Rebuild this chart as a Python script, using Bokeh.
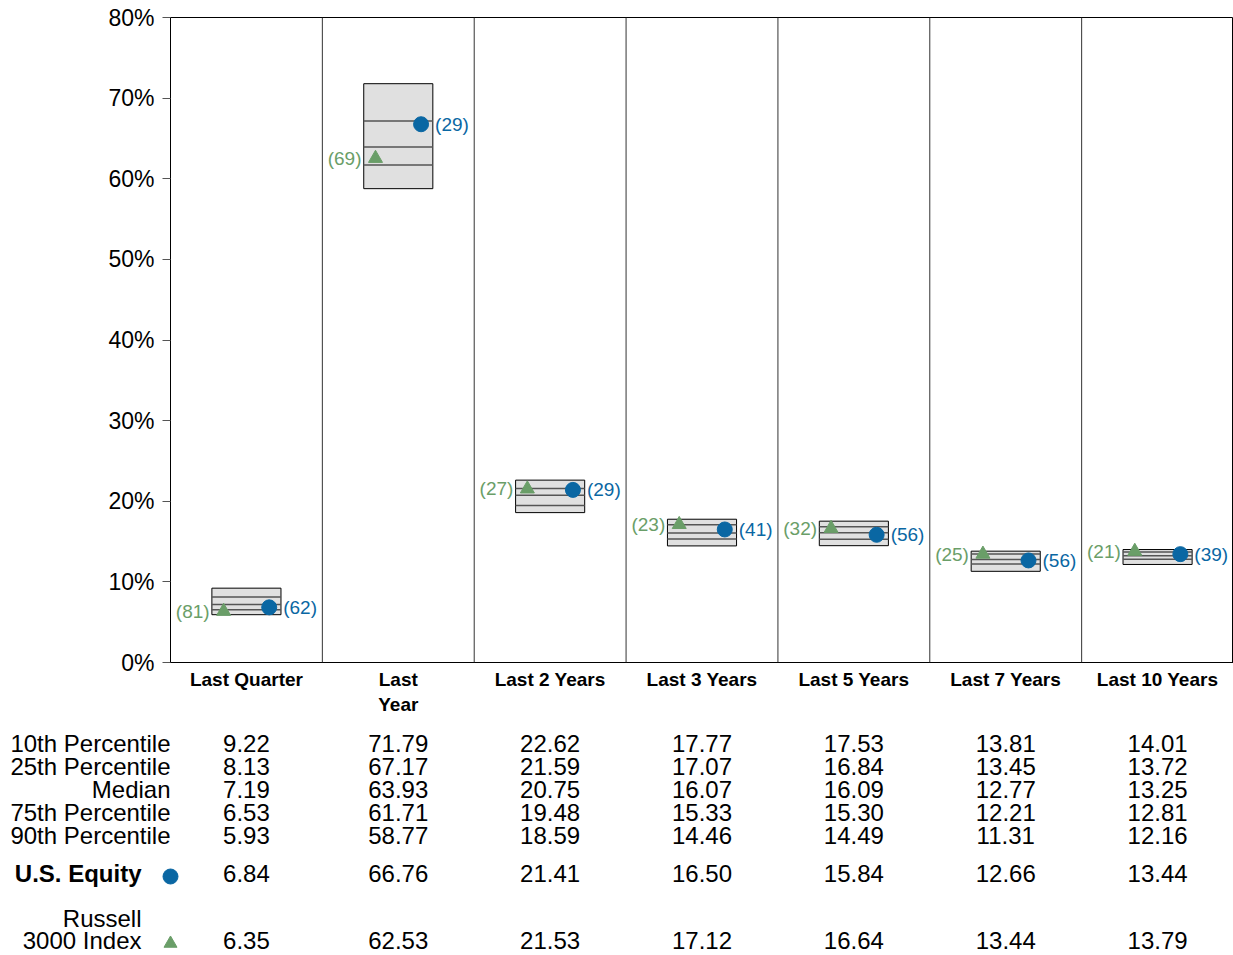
from bokeh.plotting import figure
from bokeh.models import Range1d, FixedTicker, Span, ColumnDataSource, PrintfTickFormatter
from bokeh.embed import file_html
from bokeh.resources import INLINE
from bokeh.core.properties import value

# ---------------- data ----------------
categories = ["Last Quarter", "Last Year", "Last 2 Years", "Last 3 Years",
              "Last 5 Years", "Last 7 Years", "Last 10 Years"]
axis_labels = ["Last Quarter", "Last\nYear", "Last 2 Years", "Last 3 Years",
               "Last 5 Years", "Last 7 Years", "Last 10 Years"]
p10 = [9.22, 71.79, 22.62, 17.77, 17.53, 13.81, 14.01]
p25 = [8.13, 67.17, 21.59, 17.07, 16.84, 13.45, 13.72]
median = [7.19, 63.93, 20.75, 16.07, 16.09, 12.77, 13.25]
p75 = [6.53, 61.71, 19.48, 15.33, 15.30, 12.21, 12.81]
p90 = [5.93, 58.77, 18.59, 14.46, 14.49, 11.31, 12.16]
equity = [6.84, 66.76, 21.41, 16.50, 15.84, 12.66, 13.44]
equity_rank = [62, 29, 29, 41, 56, 56, 39]
index_vals = [6.35, 62.53, 21.53, 17.12, 16.64, 13.44, 13.79]
index_rank = [81, 69, 27, 23, 32, 25, 21]
y_ticks = [0, 10, 20, 30, 40, 50, 60, 70, 80]
row_labels = ["10th Percentile", "25th Percentile", "Median", "75th Percentile", "90th Percentile"]
series_name = "U.S. Equity"
index_name = "Russell\n3000 Index"

# ---------------- styles / layout ----------------
FONT = "Liberation Sans"
BLUE = "#0A67A3"
GREEN = "#6A9E68"
BOX_FILL = "#E0E0E0"
W = 1233
LEFT = 170
N = len(categories)
PXU = (W - LEFT) / N
BOX_W = 0.455
MK_OFF = 0.15
MAIN_H = 730
TOP_B = 17
BOT_B = MAIN_H - TOP_B - 645

centers = [i + 0.5 for i in range(N)]

p = figure(width=W, height=MAIN_H, x_range=Range1d(0, N), y_range=Range1d(0, 80),
           output_backend="svg", toolbar_location=None,
           min_border_left=LEFT, min_border_right=0, min_border_top=TOP_B, min_border_bottom=BOT_B)
p.grid.visible = False
p.outline_line_color = "black"
p.background_fill_color = "white"
p.border_fill_color = "white"

p.xaxis.ticker = FixedTicker(ticks=centers)
p.xaxis.major_label_overrides = {c: lab for c, lab in zip(centers, axis_labels)}
p.xaxis.major_tick_line_color = None
p.xaxis.major_tick_out = 0
p.xaxis.major_tick_in = 0
p.xaxis.minor_tick_line_color = None
p.xaxis.axis_line_color = "black"
p.xaxis.major_label_text_font = FONT
p.xaxis.major_label_text_font_style = "bold"
p.xaxis.major_label_text_font_size = "19px"
p.xaxis.major_label_text_color = "black"
p.xaxis.major_label_standoff = 6

p.yaxis.ticker = FixedTicker(ticks=y_ticks)
p.yaxis.formatter = PrintfTickFormatter(format="%d%%")
p.yaxis.major_tick_out = 8
p.yaxis.major_tick_in = 0
p.yaxis.major_tick_line_color = "#555555"
p.yaxis.minor_tick_line_color = None
p.yaxis.axis_line_color = "black"
p.yaxis.major_label_text_font = FONT
p.yaxis.major_label_text_font_size = "23px"
p.yaxis.major_label_text_color = "black"
p.yaxis.major_label_standoff = 8

for i in range(1, N):
    p.add_layout(Span(location=i, dimension="height", line_color="#333333", line_width=1))

box_src = ColumnDataSource(dict(x=centers, top=p10, bottom=p90))
p.vbar(x="x", width=BOX_W, top="top", bottom="bottom", source=box_src,
       fill_color=BOX_FILL, line_color="black", line_width=1)

half = BOX_W / 2
for arr in (p25, median, p75):
    p.segment(x0=[c - half for c in centers], x1=[c + half for c in centers],
              y0=arr, y1=arr, line_color="#555555", line_width=1.5)

eq_x = [c + MK_OFF for c in centers]
ix_x = [c - MK_OFF for c in centers]
p.scatter(x=ix_x, y=index_vals, marker="triangle", size=14, fill_color=GREEN, line_color=GREEN)
p.scatter(x=eq_x, y=equity, marker="circle", size=15, fill_color=BLUE, line_color=BLUE)

p.text(x=eq_x, y=equity, text=[f"({r})" for r in equity_rank], x_offset=14,
       text_align="left", text_baseline="middle", text_font_size="19px",
       text_color=BLUE, text_font=value(FONT))
p.text(x=ix_x, y=index_vals, text=[f"({r})" for r in index_rank], x_offset=-14,
       text_align="right", text_baseline="middle", text_font_size="19px",
       text_color=GREEN, text_font=value(FONT))

# ---------------- table ----------------
TH = 955 - MAIN_H
t = figure(width=W, height=TH, x_range=Range1d(-LEFT / PXU, N), y_range=Range1d(TH + MAIN_H, MAIN_H),
           output_backend="svg", toolbar_location=None, min_border=0,
           x_axis_location=None, y_axis_location=None)
t.grid.visible = False
t.outline_line_color = None
t.border_fill_color = "white"
t.background_fill_color = "white"

# row positions in page pixels
row_y = [743, 766, 789, 812, 835]
eq_y = 873
ix_y1, ix_y2 = 918, 940

xs, ys, txt = [], [], []
for arr, ry in zip((p10, p25, median, p75, p90, equity, index_vals), row_y + [eq_y, ix_y2]):
    for c, v in zip(centers, arr):
        xs.append(c)
        ys.append(ry)
        txt.append(f"{v:.2f}")
t.text(x=xs, y=ys, text=txt, text_align="center", text_baseline="middle",
       text_font_size="24px", text_color="black", text_font=value(FONT))

t.text(x=[0] * len(row_labels), y=row_y, text=row_labels, text_align="right",
       text_baseline="middle", text_font_size="24px", text_color="black", text_font=value(FONT))
t.text(x=[0], y=[eq_y], text=[series_name], x_offset=-29, text_align="right",
       text_baseline="middle", text_font_size="24px", text_font_style="bold",
       text_color="black", text_font=value(FONT))
name_lines = index_name.split("\n")
t.text(x=[0, 0], y=[ix_y1, ix_y2], text=name_lines, x_offset=-29, text_align="right",
       text_baseline="middle", text_font_size="24px", text_color="black", text_font=value(FONT))
t.scatter(x=[0], y=[eq_y + 3], marker="circle", size=15, fill_color=BLUE, line_color=BLUE)
t.scatter(x=[0], y=[ix_y2 + 3], marker="triangle", size=13, fill_color=GREEN, line_color=GREEN)

open("out.html", "w").write(file_html([p, t], INLINE))
